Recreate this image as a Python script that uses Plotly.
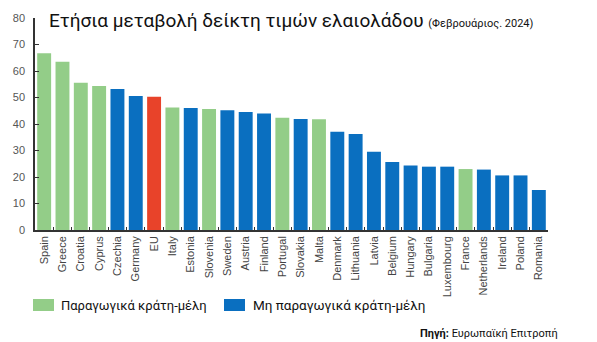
import plotly.graph_objects as go

# Annual change of the olive oil price index, February 2024 (%)
countries = ["Spain", "Greece", "Croatia", "Cyprus", "Czechia", "Germany", "EU",
             "Italy", "Estonia", "Slovenia", "Sweden", "Austria", "Finland",
             "Portugal", "Slovakia", "Malta", "Denmark", "Lithuania", "Latvia",
             "Belgium", "Hungary", "Bulgaria", "Luxembourg", "France",
             "Netherlands", "Ireland", "Poland", "Romania"]
values = [66.7, 63.5, 55.6, 54.3, 53.2, 50.6, 50.3,
          46.2, 46.0, 45.7, 45.2, 44.5, 44.0,
          42.4, 41.9, 41.8, 37.1, 36.2, 29.5,
          25.7, 24.3, 23.9, 23.9, 23.0,
          22.8, 20.6, 20.6, 15.1]
producers = ["Spain", "Greece", "Croatia", "Cyprus", "Italy", "Slovenia",
             "Portugal", "Malta", "France"]
aggregate = ["EU"]
y_ticks = [0, 10, 20, 30, 40, 50, 60, 70, 80]

legend_labels = ["Παραγωγικά κράτη-μέλη", "Μη παραγωγικά κράτη-μέλη"]
title_text = "Ετήσια μεταβολή δείκτη τιμών ελαιολάδου"
subtitle_text = "(Φεβρουάριος. 2024)"
source_text = "<b>Πηγή:</b> Ευρωπαϊκή Επιτροπή"

GREEN = "#93cd88"
BLUE = "#0a6fc0"
RED = "#e8432a"
NARROW = "Roboto, Liberation Sans, sans-serif"

W, H = 597, 342
L, R, T, B = 35, 49, 18, 112
PW, PH = W - L - R, H - T - B


def px(x):
    return (x - L) / PW


def py(y):
    return (H - B - y) / PH


colors = [RED if c in aggregate else GREEN if c in producers else BLUE
          for c in countries]

fig = go.Figure(go.Bar(
    x=countries, y=values, marker=dict(color=colors, line=dict(width=0)),
    showlegend=False,
))

fig.update_layout(
    width=W, height=H,
    margin=dict(l=L, r=R, t=T, b=B, pad=0),
    paper_bgcolor="white", plot_bgcolor="white",
    bargap=0.24,
    font=dict(family="Liberation Sans, Arial, sans-serif", color="#333"),
)

fig.update_xaxes(
    range=[-0.5, len(countries) - 0.5],
    showline=True, linecolor="#333", linewidth=1.5,
    ticks="inside", tickson="boundaries", ticklen=3, tickcolor="#333",
    tickangle=-90, tickfont=dict(size=11, color="#444"),
    showgrid=False,
)
fig.update_yaxes(
    range=[0, 80], tickvals=y_ticks,
    showline=True, linecolor="#333", linewidth=1.5,
    ticks="inside", ticklen=4, tickcolor="#333",
    tickfont=dict(size=11, color="#555"), ticklabelstandoff=6,
    showgrid=False, zeroline=False,
)

annotations = [
    dict(x=px(47), y=py(20), xref="paper", yref="paper",
         xanchor="left", yanchor="middle", showarrow=False,
         text=f"{title_text} <span style='font-size:11px'>{subtitle_text}</span>",
         font=dict(family=NARROW, size=19, color="#111")),
    dict(x=px(59), y=py(305), xref="paper", yref="paper",
         xanchor="left", yanchor="middle", showarrow=False,
         text=legend_labels[0], font=dict(family=NARROW, size=13, color="#111")),
    dict(x=px(251), y=py(305), xref="paper", yref="paper",
         xanchor="left", yanchor="middle", showarrow=False,
         text=legend_labels[1], font=dict(family=NARROW, size=13.5, color="#111")),
    dict(x=px(560), y=py(333), xref="paper", yref="paper",
         xanchor="right", yanchor="middle", showarrow=False,
         text=source_text, font=dict(family=NARROW, size=11, color="#111")),
]

shapes = [
    dict(type="rect", xref="paper", yref="paper", line=dict(width=0),
         x0=px(33), x1=px(54), y0=py(299), y1=py(311), fillcolor=GREEN),
    dict(type="rect", xref="paper", yref="paper", line=dict(width=0),
         x0=px(224), x1=px(245), y0=py(299), y1=py(311), fillcolor=BLUE),
]

fig.update_layout(annotations=annotations, shapes=shapes)

fig.write_html("out.html")
